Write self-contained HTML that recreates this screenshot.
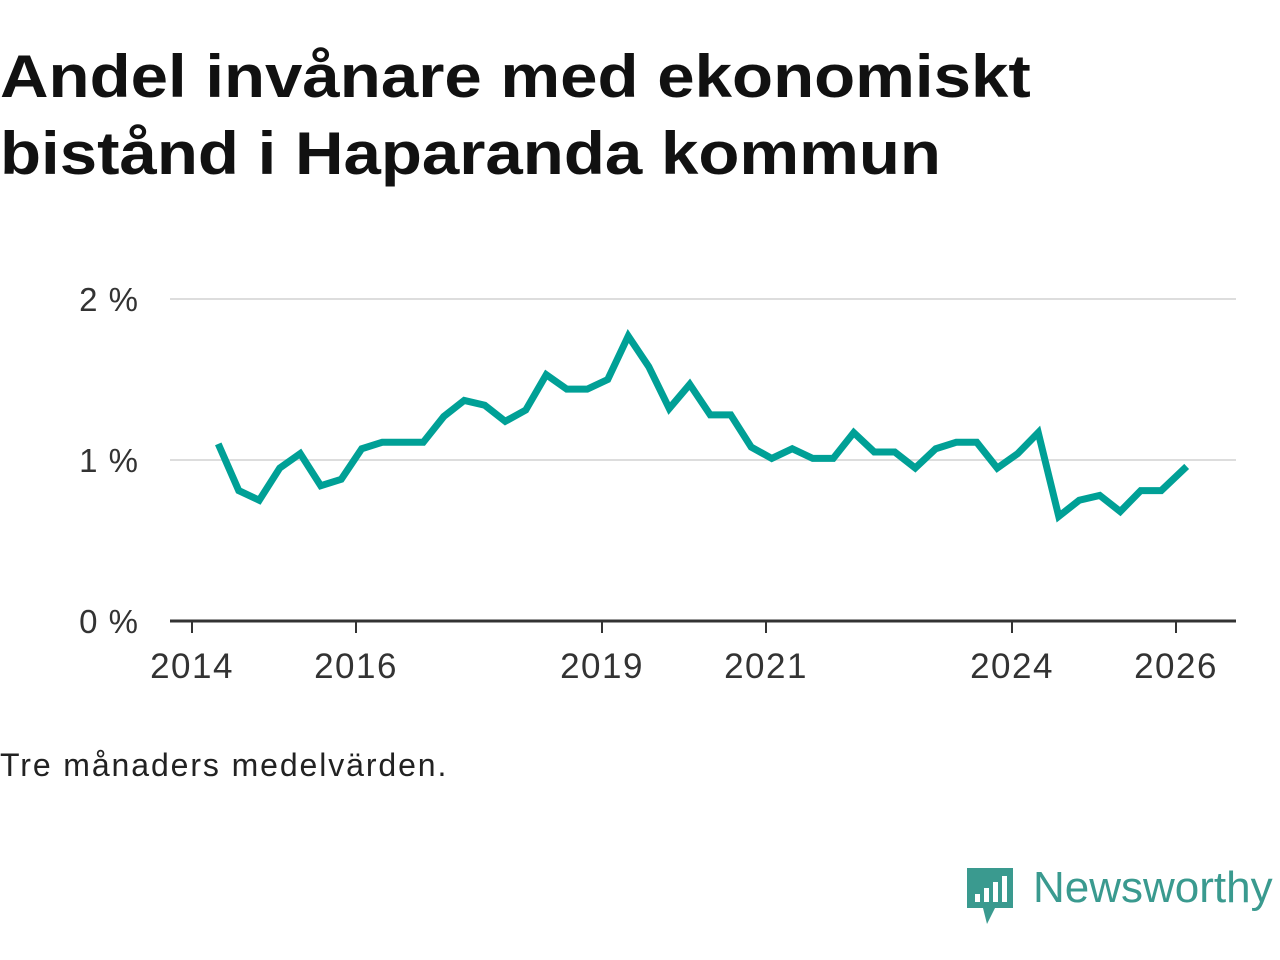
<!DOCTYPE html>
<html><head><meta charset="utf-8"><style>
body{margin:0;width:1280px;height:960px;background:#fff;font-family:"Liberation Sans",sans-serif;overflow:hidden;position:relative}
h1{position:absolute;left:0;top:38px;margin:0;font-size:60px;line-height:77px;font-weight:bold;color:#111;transform:scaleX(1.12);transform-origin:0 0;white-space:nowrap}
.note{position:absolute;left:0;top:747px;font-size:32px;color:#222;letter-spacing:1.9px}
</style></head><body>
<h1>Andel invånare med ekonomiskt<br>bistånd i Haparanda kommun</h1>
<svg width="1280" height="960" style="position:absolute;left:0;top:0" id="chart"></svg>
<div class="note">Tre månaders medelvärden.</div>
<div style="position:absolute;left:965px;top:866px;">
<svg width="50" height="60" style="position:absolute;left:0;top:0"><path d="M2 2h46v40H30l-8 16-4-16H2z" fill="#3a9a8f"/><rect x="10" y="28" width="5" height="8" fill="#fff"/><rect x="19" y="22" width="5" height="14" fill="#fff"/><rect x="28" y="16" width="5" height="20" fill="#fff"/><rect x="37" y="10" width="5" height="26" fill="#fff"/></svg>
<div style="position:absolute;left:68px;top:-3px;font-size:44px;color:#3a9a8f;white-space:nowrap">Newsworthy</div></div>
<script>
const times=[2014.32,2014.57,2014.82,2015.07,2015.32,2015.57,2015.82,2016.07,2016.32,2016.57,2016.82,2017.07,2017.32,2017.57,2017.82,2018.07,2018.32,2018.57,2018.82,2019.07,2019.32,2019.57,2019.82,2020.07,2020.32,2020.57,2020.82,2021.07,2021.32,2021.57,2021.82,2022.07,2022.32,2022.57,2022.82,2023.07,2023.32,2023.57,2023.82,2024.07,2024.32,2024.57,2024.82,2025.07,2025.32,2025.57,2025.82,2026.13];
const values=[1.10,0.81,0.75,0.95,1.04,0.84,0.88,1.07,1.11,1.11,1.11,1.27,1.37,1.34,1.24,1.31,1.53,1.44,1.44,1.50,1.77,1.58,1.32,1.47,1.28,1.28,1.08,1.01,1.07,1.01,1.01,1.17,1.05,1.05,0.95,1.07,1.11,1.11,0.95,1.04,1.17,0.65,0.75,0.78,0.68,0.81,0.81,0.96];
const xTicks=[2014,2016,2019,2021,2024,2026];
const yTicks=[0,1,2];
const yLabels=["0 %","1 %","2 %"];
const svg=document.getElementById('chart');const NS='http://www.w3.org/2000/svg';
const x=t=>192+(t-2014)*82;const y=v=>621-v*161;
function mk(tag,a){const e=document.createElementNS(NS,tag);for(const k in a)e.setAttribute(k,a[k]);svg.appendChild(e);return e;}
yTicks.forEach((v,i)=>{
 if(v>0){const g=mk('line',{x1:170,x2:1236,y1:y(v),y2:y(v),stroke:'#ddd','stroke-width':2});
 
 }
 const t=mk('text',{x:139,y:y(v)+12,'text-anchor':'end','font-size':33,'letter-spacing':1,fill:'#333','font-family':'Liberation Sans'});t.textContent=yLabels[i];
 
 
});
const ax=mk('line',{x1:170,x2:1236,y1:621,y2:621,stroke:'#333','stroke-width':3});


xTicks.forEach(tk=>{
 const l=mk('line',{x1:x(tk),x2:x(tk),y1:621,y2:633,stroke:'#333','stroke-width':2});
 
 
 const t=mk('text',{x:x(tk),y:678,'text-anchor':'middle','font-size':35,'letter-spacing':1.5,fill:'#333','font-family':'Liberation Sans'});t.textContent=tk;
 
 
});
const p=mk('polyline',{points:times.map((t,i)=>x(t)+','+y(values[i])).join(' '),fill:'none',stroke:'#00a096','stroke-width':7,'stroke-linejoin':'miter'});


</script>
</body></html>
